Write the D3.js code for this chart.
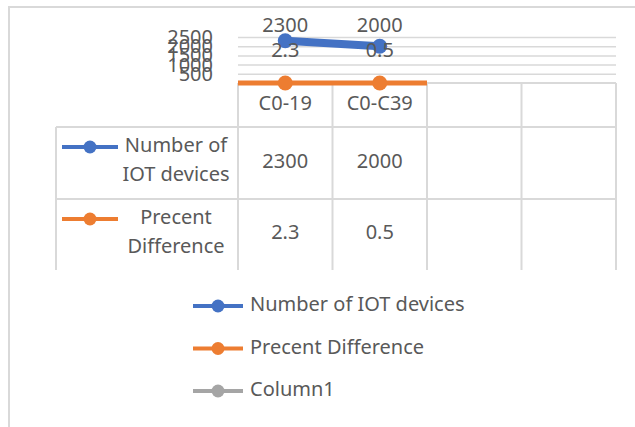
<!DOCTYPE html>
<html>
<head>
<meta charset="utf-8">
<script src="https://cdn.jsdelivr.net/npm/d3@7"></script>
<style>
  body { margin: 0; background: #fff; }
  text { font-family: "Noto Sans", sans-serif; fill: #595959; }
</style>
</head>
<body>
<svg class="chart"></svg>
<script>
// ----- Data -----
let categories = ['C0-19', 'C0-C39', '', '']
let iotDevices = [2300, 2000]
let percentDiff = [2.3, 0.5]
let yTicks = [500, 1000, 1500, 2000, 2500]
let seriesNames = ['Number of IOT devices', 'Precent Difference', 'Column1']
let seriesColors = ['#4472c4', '#ed7d31', '#a5a5a5']

let svgWidth = 635
let svgHeight = 427
let svg = d3.select('.chart')
            .attr('width', svgWidth)
            .attr('height', svgHeight)

let gridColor = '#d9d9d9'
let fontSize = '20px'

// chart frame (cut off right/bottom like the screenshot)
svg.append('rect')
   .attr('x', 9).attr('y', 7)
   .attr('width', 700).attr('height', 500)
   .attr('fill', 'none')
   .attr('stroke', gridColor)
   .attr('stroke-width', 2)

// scales
let x = d3.scaleBand()
          .domain(d3.range(categories.length))
          .range([238, 616])
let y = d3.scaleLinear()
          .domain([0, 2500])
          .range([83, 37])

// y axis + gridlines
let yAxis = svg.append('g')
   .attr('transform', 'translate(' + x.range()[0] + ',0)')
   .call(d3.axisLeft(y)
           .tickValues(yTicks)
           .tickFormat(d3.format('d'))
           .tickSize(-(x.range()[1] - x.range()[0]))
           .tickPadding(25))
yAxis.select('.domain').remove()
yAxis.selectAll('line').attr('stroke', gridColor).attr('stroke-width', 1.5)
yAxis.selectAll('text')
     .attr('font-size', fontSize)
     .attr('font-family', '"Noto Sans", sans-serif')
     .attr('fill', '#595959')

// ----- data table -----
let tableTop = y(0)
let rowTops = [127, 199]
let tableBottom = 270
let tableLeft = 56

let table = svg.append('g')
// vertical lines at band edges
table.selectAll('.vline')
     .data(d3.range(categories.length + 1))
     .enter()
     .append('line')
     .attr('x1', function (d) { return x.range()[0] + d * x.step() })
     .attr('x2', function (d) { return x.range()[0] + d * x.step() })
     .attr('y1', tableTop)
     .attr('y2', tableBottom)
     .attr('stroke', gridColor)
     .attr('stroke-width', 2)
// horizontal lines
table.append('line')
     .attr('x1', x.range()[0]).attr('x2', x.range()[1])
     .attr('y1', tableTop).attr('y2', tableTop)
     .attr('stroke', gridColor).attr('stroke-width', 2)
table.selectAll('.hline')
     .data(rowTops)
     .enter()
     .append('line')
     .attr('x1', tableLeft).attr('x2', x.range()[1])
     .attr('y1', function (d) { return d })
     .attr('y2', function (d) { return d })
     .attr('stroke', gridColor).attr('stroke-width', 2)
table.append('line')
     .attr('x1', tableLeft).attr('x2', tableLeft)
     .attr('y1', rowTops[0]).attr('y2', tableBottom)
     .attr('stroke', gridColor).attr('stroke-width', 2)

// category labels
table.selectAll('.cat')
     .data(categories)
     .enter()
     .append('text')
     .attr('x', function (d, i) { return x(i) + x.bandwidth() / 2 })
     .attr('y', 105)
     .attr('text-anchor', 'middle')
     .attr('dominant-baseline', 'middle')
     .attr('font-size', fontSize)
     .text(function (d) { return d })

// row values
let rows = [iotDevices, percentDiff]
let rowCenters = [163, 234]
rows.forEach(function (vals, r) {
    table.selectAll('.val' + r)
         .data(vals)
         .enter()
         .append('text')
         .attr('x', function (d, i) { return x(i) + x.bandwidth() / 2 })
         .attr('y', rowCenters[r])
         .attr('text-anchor', 'middle')
         .attr('dominant-baseline', 'middle')
         .attr('font-size', fontSize)
         .text(function (d) { return d })
})

// row headers with legend keys
let rowLabels = [['Number of', 'IOT devices'], ['Precent', 'Difference']]
rowLabels.forEach(function (lines, r) {
    let keyY = rowTops[r] + 20
    table.append('line')
         .attr('x1', 62).attr('x2', 118)
         .attr('y1', keyY).attr('y2', keyY)
         .attr('stroke', seriesColors[r]).attr('stroke-width', 4)
    table.append('circle')
         .attr('cx', 90).attr('cy', keyY).attr('r', 6.5)
         .attr('fill', seriesColors[r])
    lines.forEach(function (t, j) {
        table.append('text')
             .attr('x', 176)
             .attr('y', rowTops[r] + 20 + j * 29)
             .attr('text-anchor', 'middle')
             .attr('dominant-baseline', 'middle')
             .attr('font-size', fontSize)
             .text(t)
    })
})

// ----- series -----
// orange series sits on the axis, drawn across its bands
svg.append('line')
   .attr('x1', x(0)).attr('x2', x(percentDiff.length - 1) + x.bandwidth())
   .attr('y1', y(0)).attr('y2', y(0))
   .attr('stroke', seriesColors[1]).attr('stroke-width', 5)

let line = d3.line()
             .x(function (d, i) { return x(i) + x.bandwidth() / 2 })
             .y(function (d) { return y(d) })

svg.append('path')
   .datum(iotDevices)
   .attr('d', line)
   .attr('fill', 'none')
   .attr('stroke', seriesColors[0])
   .attr('stroke-width', 8)
   .attr('stroke-linecap', 'round')

let series = [iotDevices, percentDiff]
series.forEach(function (vals, s) {
    svg.selectAll('.pt' + s)
       .data(vals)
       .enter()
       .append('circle')
       .attr('cx', function (d, i) { return x(i) + x.bandwidth() / 2 })
       .attr('cy', function (d) { return y(d) })
       .attr('r', 7.5)
       .attr('fill', seriesColors[s])
})

// data labels
svg.selectAll('.lblBlue')
   .data(iotDevices)
   .enter()
   .append('text')
   .attr('x', function (d, i) { return x(i) + x.bandwidth() / 2 })
   .attr('y', y.range()[1] - 10)
   .attr('text-anchor', 'middle')
   .attr('dominant-baseline', 'middle')
   .attr('font-size', fontSize)
   .text(function (d) { return d })

svg.selectAll('.lblOrange')
   .data(percentDiff)
   .enter()
   .append('text')
   .attr('x', function (d, i) { return x(i) + x.bandwidth() / 2 })
   .attr('y', y(0) - 31)
   .attr('text-anchor', 'middle')
   .attr('dominant-baseline', 'middle')
   .attr('font-size', fontSize)
   .text(function (d) { return d })

// ----- legend -----
let legend = svg.selectAll('.legend')
                .data(seriesNames)
                .enter()
                .append('g')
                .attr('transform', function (d, i) {
                    return 'translate(193,' + (306 + i * 42.5) + ')'
                })
legend.append('line')
      .attr('x1', 0).attr('x2', 50)
      .attr('stroke', function (d, i) { return seriesColors[i] })
      .attr('stroke-width', 4)
legend.append('circle')
      .attr('cx', 25).attr('r', 6.5)
      .attr('fill', function (d, i) { return seriesColors[i] })
legend.append('text')
      .attr('x', 57)
      .attr('dominant-baseline', 'middle')
      .attr('font-size', fontSize)
      .text(function (d) { return d })
</script>
</body>
</html>
